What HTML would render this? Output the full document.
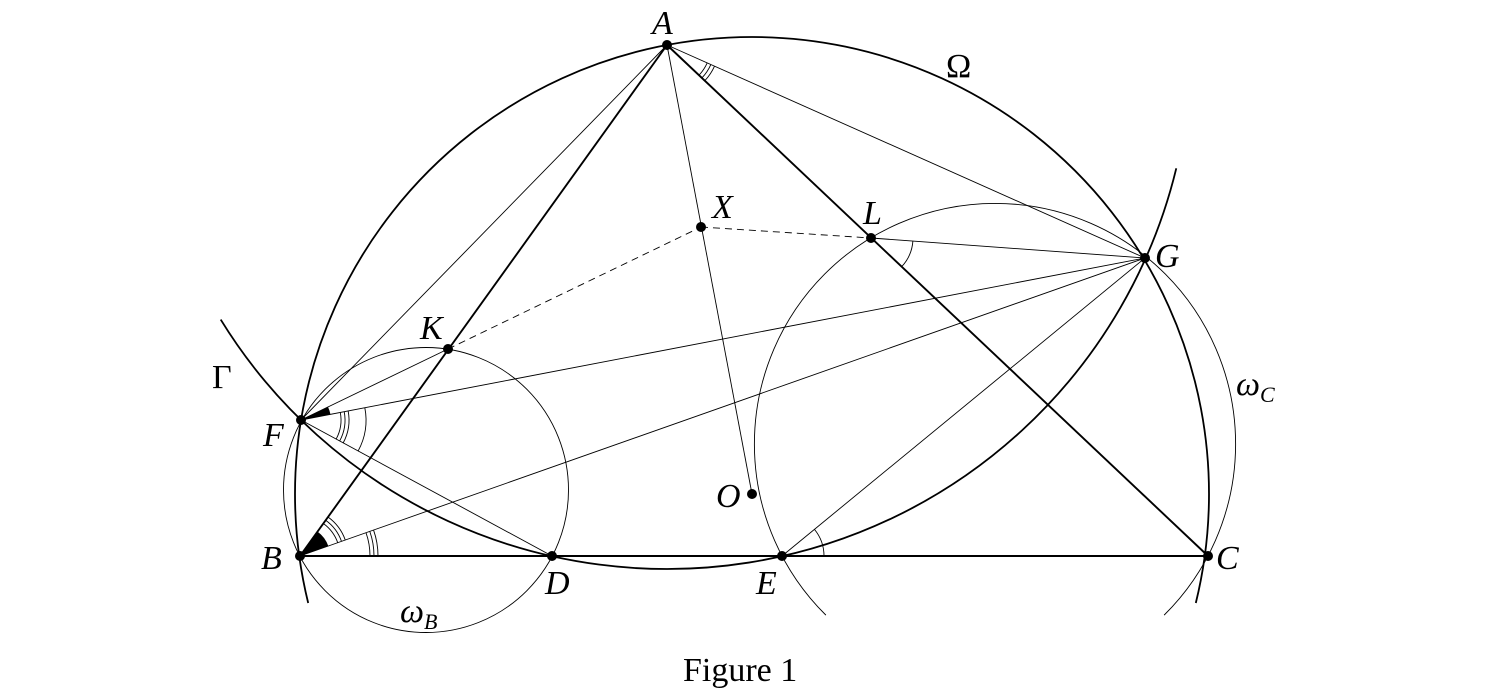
<!DOCTYPE html>
<html><head><style>body{margin:0;background:#fff}svg{display:block}text{font-family:"Liberation Serif",serif;font-style:italic;font-size:34px}</style></head>
<body>
<svg id="s" width="1511" height="696" viewBox="0 0 1511 696" xmlns="http://www.w3.org/2000/svg">
<g fill="none" stroke="#000">
<path id="om" stroke-width="1.8"/>
<path id="ga" stroke-width="1.8"/>
<circle cx="426" cy="490" r="142.5" stroke-width="0.9"/>
<path id="wc" stroke-width="0.9"/>
<g stroke-width="1.9">
<line x1="667" y1="45" x2="300" y2="556"/>
<line x1="667" y1="45" x2="1208" y2="556"/>
<line x1="300" y1="556" x2="1208" y2="556"/>
</g>
<g stroke-width="0.9">
<line x1="667" y1="45" x2="301" y2="420"/>
<line x1="667" y1="45" x2="1145" y2="258"/>
<line x1="667" y1="45" x2="752" y2="494"/>
<line x1="301" y1="420" x2="448" y2="349"/>
<line x1="301" y1="420" x2="1145" y2="258"/>
<line x1="301" y1="420" x2="552" y2="556"/>
<line x1="300" y1="556" x2="1145" y2="258"/>
<line x1="782" y1="556" x2="1145" y2="258"/>
<line x1="871" y1="238" x2="1145" y2="258"/>
</g>
<g stroke-width="0.9" stroke-dasharray="7,5">
<line x1="448" y1="349" x2="701" y2="227"/>
<line x1="701" y1="227" x2="871" y2="238"/>
</g>
<g id="marks" stroke-width="0.9"></g>
</g>
<g fill="#000">
<circle cx="667" cy="45" r="5"/><circle cx="300" cy="556" r="5"/><circle cx="1208" cy="556" r="5"/>
<circle cx="552" cy="556" r="5"/><circle cx="782" cy="556" r="5"/><circle cx="301" cy="420" r="5"/>
<circle cx="1145" cy="258" r="5"/><circle cx="448" cy="349" r="5"/><circle cx="871" cy="238" r="5"/>
<circle cx="701" cy="227" r="5"/><circle cx="752" cy="494" r="5"/>
<path id="w1"/><path id="w2"/>
</g>
<g>
<text x="652" y="34">A</text>
<text x="261" y="569">B</text>
<text x="1216" y="569">C</text>
<text x="545" y="594">D</text>
<text x="756" y="594">E</text>
<text x="263" y="446">F</text>
<text x="1155" y="267">G</text>
<text x="420" y="339">K</text>
<text x="863" y="224">L</text>
<text x="712" y="218">X</text>
<text x="716" y="507">O</text>
<text x="946" y="77" style="font-style:normal">Ω</text>
<text x="212" y="388" style="font-style:normal">Γ</text>
<text x="1236" y="395">ω<tspan font-size="22" dy="7">C</tspan></text>
<text x="400" y="622">ω<tspan font-size="22" dy="7">B</tspan></text>
<text x="683" y="681" style="font-style:normal;font-size:34px">Figure 1</text>
</g>
</svg>
<script>
function arcPath(cx,cy,r,a1,a2){var x1=cx+r*Math.cos(a1),y1=cy+r*Math.sin(a1),x2=cx+r*Math.cos(a2),y2=cy+r*Math.sin(a2);var d=a2-a1;while(d<0)d+=2*Math.PI;var large=d>Math.PI?1:0;return "M"+x1+","+y1+" A"+r+","+r+" 0 "+large+" 1 "+x2+","+y2;}
function ang(p,q){return Math.atan2(q[1]-p[1],q[0]-p[0]);}
var s=Math.asin(109/457);
document.getElementById('om').setAttribute('d',arcPath(752,494,457,Math.PI-s,s+2*Math.PI));
var g1=Math.atan2(275,-447),g2=Math.atan2(123,508);
document.getElementById('ga').setAttribute('d',arcPath(667,45,524,g2,g1));
document.getElementById('wc').setAttribute('d',arcPath(995,444,240.6,Math.atan2(171,-169),Math.atan2(171,169)+2*Math.PI));
var A=[667,45],B=[300,556],C=[1208,556],D=[552,556],E=[782,556],F=[301,420],G=[1145,258],K=[448,349],L=[871,238];
var m=document.getElementById('marks'),h='';
function arcs(P,Q1,Q2,rs){var a1=ang(P,Q1),a2=ang(P,Q2);rs.forEach(function(r){h+='<path d="'+arcPath(P[0],P[1],r,a1,a2)+'"/>';});}
arcs(F,G,D,[40,44,48,65]);
arcs(B,A,G,[40,44,48]);
arcs(B,G,C,[70,74,78]);
arcs(A,G,C,[44,48,52]);
arcs(L,G,C,[42]);
arcs(E,G,C,[42]);
m.innerHTML=h;
function wedge(P,Q1,Q2,r){var a1=ang(P,Q1),a2=ang(P,Q2);return "M"+P[0]+","+P[1]+" L"+(P[0]+r*Math.cos(a1))+","+(P[1]+r*Math.sin(a1))+" A"+r+","+r+" 0 0 1 "+(P[0]+r*Math.cos(a2))+","+(P[1]+r*Math.sin(a2))+" Z";}
document.getElementById('w1').setAttribute('d',wedge(F,K,G,30));
document.getElementById('w2').setAttribute('d',wedge(B,A,G,30));
</script>
</body></html>
